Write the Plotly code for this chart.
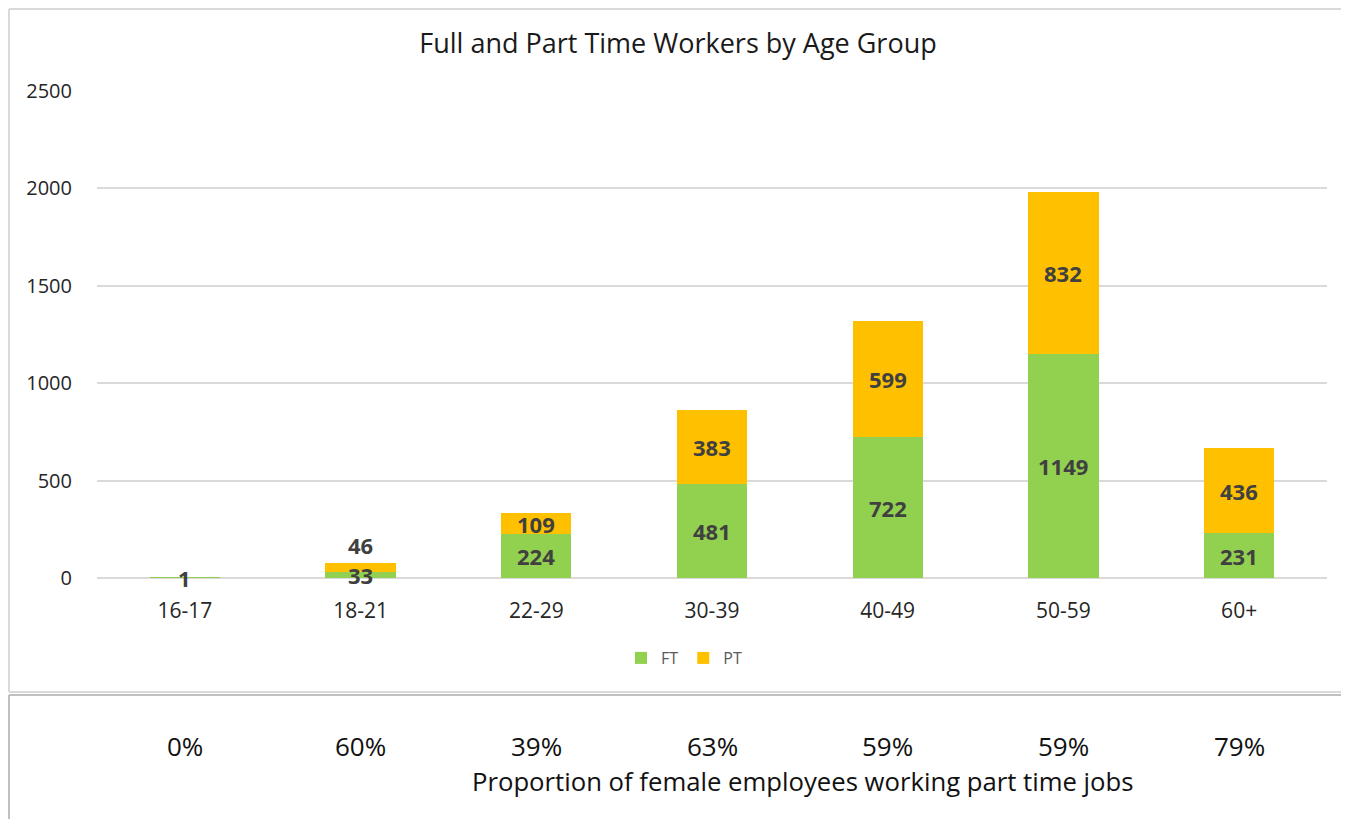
import plotly.graph_objects as go

categories = ["16-17", "18-21", "22-29", "30-39", "40-49", "50-59", "60+"]
ft_values = [1, 33, 224, 481, 722, 1149, 231]
pt_values = [0, 46, 109, 383, 599, 832, 436]
pt_share_labels = ["0%", "60%", "39%", "63%", "59%", "59%", "79%"]
y_ticks = [0, 500, 1000, 1500, 2000, 2500]

# styling: where the PT label sits
pt_label_outside = [False, True, False, False, False, False, False]

OFF = 8  # page body margin
W, H = 1349 - 2 * OFF, 827 - 2 * OFF
# plot area in page pixels: x 97..1327, y 91..578
L, T = 97 - OFF, 91 - OFF
R = W - (1327 - OFF)
B = H - (578 - OFF)
PW, PH = W - L - R, H - T - B


def px_x(px):  # page px -> paper
    return (px - OFF - L) / PW


def px_y(py):  # page px -> paper
    return (H - B - (py - OFF)) / PH


FONT = "Open Sans"
LABEL_COLOR = "#404040"
TEXT_COLOR = "#262626"

fig = go.Figure()
fig.add_trace(go.Bar(
    name="FT", x=categories, y=ft_values,
    marker=dict(color="#92D050", line=dict(width=0)),
    width=0.4, hoverinfo="x+y+name",
))
fig.add_trace(go.Bar(
    name="PT", x=categories, y=pt_values,
    marker=dict(color="#FFC000", line=dict(width=0)),
    width=0.4, hoverinfo="x+y+name",
))

label_font = dict(family=FONT, size=22, color=LABEL_COLOR, weight="bold")
annotations = []
for c, ft, pt, outside in zip(categories, ft_values, pt_values, pt_label_outside):
    if ft:
        annotations.append(dict(x=c, y=ft / 2, xref="x", yref="y", text=str(ft),
                                showarrow=False, font=label_font, yanchor="middle"))
    if pt:
        if outside:
            annotations.append(dict(x=c, y=ft + pt, xref="x", yref="y", text=str(pt),
                                    showarrow=False, font=label_font, yanchor="middle",
                                    yshift=18))
        else:
            annotations.append(dict(x=c, y=ft + pt / 2, xref="x", yref="y", text=str(pt),
                                    showarrow=False, font=label_font, yanchor="middle"))

for c, lab in zip(categories, pt_share_labels):
    annotations.append(dict(x=c, xref="x", y=px_y(746), yref="paper", text=lab,
                            showarrow=False, xanchor="center", yanchor="middle",
                            font=dict(family=FONT, size=26, color="#111111")))
annotations.append(dict(x=px_x(803), xref="paper", y=px_y(781), yref="paper",
                        text="Proportion of female employees working part time jobs",
                        showarrow=False, xanchor="center", yanchor="middle",
                        font=dict(family=FONT, size=25.7, color="#111111")))

line_light = dict(color="#d9d9d9", width=2)
line_dark = dict(color="#c0c0c0", width=2)
x_left = px_x(OFF + 1)
x_far = px_x(1400)
shapes = [
    # chart area border: top, left, bottom
    dict(type="line", xref="paper", yref="paper", x0=x_left, x1=x_far,
         y0=px_y(OFF + 1), y1=px_y(OFF + 1), line=line_light, layer="below"),
    dict(type="line", xref="paper", yref="paper", x0=x_left, x1=x_left,
         y0=px_y(OFF + 1), y1=px_y(692), line=line_light, layer="below"),
    dict(type="line", xref="paper", yref="paper", x0=x_left, x1=x_far,
         y0=px_y(692), y1=px_y(692), line=line_light, layer="below"),
    # lower box: top, left
    dict(type="line", xref="paper", yref="paper", x0=x_left, x1=x_far,
         y0=px_y(695), y1=px_y(695), line=line_dark, layer="below"),
    dict(type="line", xref="paper", yref="paper", x0=x_left, x1=x_left,
         y0=px_y(695), y1=px_y(900), line=line_dark, layer="below"),
]

fig.update_layout(
    width=W, height=H,
    margin=dict(l=L, r=R, t=T, b=B, autoexpand=False),
    barmode="stack",
    paper_bgcolor="white", plot_bgcolor="white",
    title=dict(text="Full and Part Time Workers by Age Group", x=px_x(678), xref="paper",
               xanchor="center", y=1 - (44 - OFF) / H, yanchor="middle",
               font=dict(family=FONT, size=27, color="#1a1a1a")),
    legend=dict(orientation="h", x=px_x(684), xref="paper", xanchor="center",
                y=px_y(658), yanchor="middle", yref="paper",
                font=dict(family=FONT, size=16, color="#595959"),
                itemwidth=30, traceorder="normal", bgcolor="rgba(0,0,0,0)"),
    xaxis=dict(type="category", showgrid=False, showline=False, zeroline=False,
               ticks="", ticklabelstandoff=18,
               tickfont=dict(family=FONT, size=21, color=TEXT_COLOR)),
    yaxis=dict(range=[0, 2500], tickvals=y_ticks, showgrid=True, gridcolor="#d9d9d9",
               gridwidth=1.5, zeroline=True, zerolinecolor="#d9d9d9", zerolinewidth=1.5,
               showline=False, ticks="", ticklabelstandoff=24,
               tickfont=dict(family=FONT, size=20, color=TEXT_COLOR)),
    shapes=shapes,
    annotations=annotations,
    showlegend=True,
)

fig.write_html("out.html")
